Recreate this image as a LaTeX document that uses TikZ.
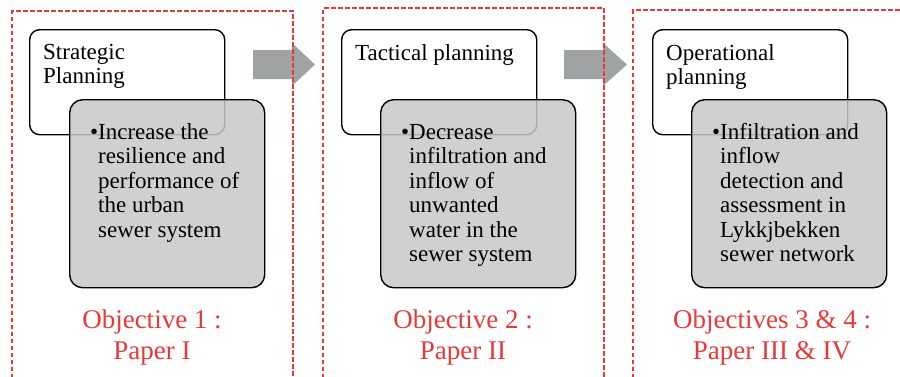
\documentclass[tikz,border=0pt]{standalone}
\usepackage{fontspec}
\setmainfont{Liberation Serif}
\usetikzlibrary{positioning}
\definecolor{panelred}{RGB}{232,56,56}
\definecolor{boxgray}{RGB}{200,200,200}
\definecolor{arrowgray}{RGB}{160,163,163}

\begin{document}
\begin{tikzpicture}[x=1pt,y=-1pt,
        panel/.style={draw=panelred,line width=1.4pt,dash pattern=on 4.5pt off 2.5pt},
        levelbox/.style={draw=black,line width=1.4pt,rounded corners=10pt,fill=white,
            minimum width=195pt,minimum height=105pt,anchor=north west,inner sep=0pt},
        goalbox/.style={draw=black,line width=1.4pt,rounded corners=13pt,fill=boxgray,fill opacity=0.85,
            minimum width=195pt,minimum height=188pt,anchor=north west,inner sep=0pt},
        boxtext/.style={anchor=north west,inner sep=0pt,align=left,font=\fontsize{23}{24.5}\selectfont},
        objtext/.style={align=center,text=panelred,inner sep=0pt,font=\fontsize{27}{31}\selectfont}]
                \useasboundingbox (0,0) rectangle (900,376);
                % arrows between the planning levels
                \fill[arrowgray] (253,50) -- (292,50) -- (292,43) -- (315,64.5) -- (292,86) -- (292,79) -- (253,79) -- cycle;
                \fill[arrowgray] (564,50) -- (603,50) -- (603,43) -- (627,64.5) -- (603,86) -- (603,79) -- (564,79) -- cycle;

                % dashed frames
                \draw[panel] (12,392) -- (12,11) -- (293,11) -- (293,392);
                \draw[panel] (323,392) -- (323,8) -- (604,8) -- (604,392);
                \draw[panel] (633,392) -- (633,10) -- (912,10);

                % strategic
                \node[levelbox] (strat) at (29,29) {};
                \node[boxtext] (stratT) at ([xshift=14pt,yshift=-15pt]strat.north west) {Strategic\\Planning};
                \node[goalbox] (stratG) at (69,99) {};
                \node[boxtext] (stratL) at ([xshift=21pt,yshift=-23pt]stratG.north west) {%
                    \begin{tabular}{@{}l@{}l@{}}
                    \makebox[8pt][l]{\textbullet} & Increase the\\
                     & resilience and\\
                     & performance of\\
                     & the urban\\
                     & sewer system
                    \end{tabular}};
                \node[objtext] (obj1) at (152,337) {Objective 1 :\\Paper I};

                % tactical
                \node[levelbox] (tact) at (341,29) {};
                \node[boxtext] (tactT) at ([xshift=14pt,yshift=-15pt]tact.north west) {Tactical planning};
                \node[goalbox] (tactG) at (380,99) {};
                \node[boxtext] (tactL) at ([xshift=21pt,yshift=-23pt]tactG.north west) {%
                    \begin{tabular}{@{}l@{}l@{}}
                    \makebox[8pt][l]{\textbullet} & Decrease\\
                     & infiltration and\\
                     & inflow of\\
                     & unwanted\\
                     & water in the\\
                     & sewer system
                    \end{tabular}};
                \node[objtext] (obj2) at (463,337) {Objective 2 :\\Paper II};

                % operational
                \node[levelbox] (oper) at (652,29) {};
                \node[boxtext] (operT) at ([xshift=14pt,yshift=-15pt]oper.north west) {Operational\\planning};
                \node[goalbox] (operG) at (691,99) {};
                \node[boxtext] (operL) at ([xshift=21pt,yshift=-23pt]operG.north west) {%
                    \begin{tabular}{@{}l@{}l@{}}
                    \makebox[8pt][l]{\textbullet} & Infiltration and\\
                     & inflow\\
                     & detection and\\
                     & assessment in\\
                     & Lykkjbekken\\
                     & sewer network
                    \end{tabular}};
                \node[objtext] (obj3) at (772,337) {Objectives 3 \& 4 :\\Paper III \& IV};
\end{tikzpicture}
\end{document}
